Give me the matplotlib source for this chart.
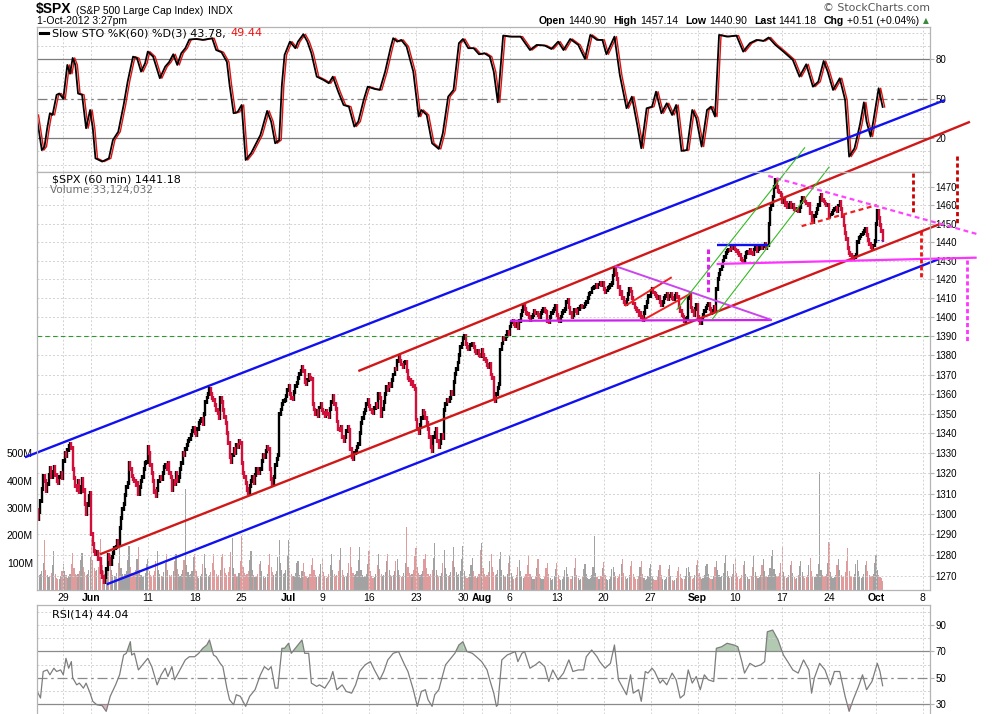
import numpy as np
import pandas as pd
import matplotlib
matplotlib.use("Agg")
from matplotlib import pyplot as plt
from matplotlib.lines import Line2D
from matplotlib.ticker import FixedLocator, NullLocator, FuncFormatter

# calendar of 60 min bars (7 a day, Jul 3 half session)
holidays = ["2012-05-28", "2012-07-04", "2012-09-03"]
half_days = ["2012-07-03"]

# hourly closes of $SPX, one row per trading day, May 23 .. Oct 1 (3:27pm)
spx_open_first = 1316.0
spx_close = [
    [1310.5, 1302.0, 1297.5, 1300.8, 1306.2, 1312.4, 1318.9],  # May 23
    [1316.0, 1311.2, 1314.8, 1319.2, 1322.5, 1318.0, 1320.7],
    [1323.0, 1319.4, 1316.1, 1315.2, 1318.3, 1320.1, 1317.8],
    [1326.0, 1330.2, 1328.8, 1331.5, 1333.6, 1334.5, 1332.4],  # May 29
    [1322.0, 1317.5, 1313.8, 1312.0, 1316.2, 1311.0, 1313.3],
    [1317.0, 1311.5, 1305.0, 1300.2, 1304.6, 1309.0, 1310.3],
    [1290.0, 1285.2, 1282.0, 1280.5, 1281.3, 1278.2, 1278.0],  # Jun 1
    [1272.0, 1269.5, 1267.2, 1269.4, 1273.5, 1280.0, 1278.2],
    [1276.0, 1279.2, 1281.0, 1283.3, 1284.1, 1287.0, 1285.5],
    [1293.0, 1298.2, 1302.5, 1305.0, 1309.4, 1313.2, 1315.1],
    [1325.0, 1322.0, 1318.5, 1317.2, 1316.0, 1314.1, 1315.0],
    [1310.0, 1313.1, 1316.2, 1318.4, 1322.0, 1325.2, 1325.7],
    [1333.0, 1330.1, 1324.2, 1320.0, 1316.3, 1311.0, 1308.9],  # Jun 11
    [1312.0, 1316.2, 1318.1, 1317.0, 1320.3, 1323.0, 1324.2],
    [1322.0, 1325.1, 1320.2, 1318.0, 1312.0, 1316.0, 1314.9],
    [1320.0, 1316.2, 1318.4, 1322.0, 1325.3, 1330.0, 1329.1],
    [1332.0, 1334.2, 1336.0, 1337.3, 1339.1, 1341.2, 1342.8],
    [1340.0, 1339.0, 1342.1, 1345.0, 1346.2, 1347.3, 1344.8],  # Jun 18
    [1350.0, 1356.1, 1358.2, 1360.0, 1362.4, 1360.1, 1358.0],
    [1357.0, 1354.2, 1352.0, 1350.1, 1348.0, 1358.2, 1355.7],
    [1352.0, 1348.1, 1345.0, 1340.2, 1335.0, 1328.1, 1325.5],
    [1329.0, 1332.0, 1330.2, 1334.1, 1333.0, 1336.2, 1335.0],
    [1325.0, 1320.1, 1318.0, 1315.2, 1312.0, 1310.5, 1313.7],  # Jun 25
    [1316.0, 1318.2, 1315.1, 1319.0, 1322.1, 1320.2, 1320.0],
    [1322.0, 1326.1, 1329.0, 1328.1, 1331.0, 1333.2, 1331.9],
    [1322.0, 1317.1, 1314.5, 1318.0, 1324.1, 1327.0, 1329.0],
    [1350.0, 1352.1, 1355.0, 1356.2, 1357.0, 1359.1, 1362.2],
    [1364.0, 1360.1, 1358.0, 1357.2, 1361.0, 1364.1, 1365.5],  # Jul 2
    [1368.0, 1370.2, 1372.1, 1374.0],
    [1372.0, 1366.1, 1365.0, 1367.2, 1370.0, 1368.1, 1367.6],
    [1355.0, 1352.1, 1350.0, 1351.2, 1349.0, 1353.1, 1354.7],
    [1352.0, 1350.1, 1349.0, 1351.2, 1350.0, 1348.1, 1352.5],  # Jul 9
    [1356.0, 1359.1, 1355.0, 1352.2, 1346.0, 1342.1, 1341.5],
    [1343.0, 1338.1, 1336.0, 1338.2, 1341.0, 1343.1, 1341.5],
    [1332.0, 1328.1, 1327.0, 1330.2, 1331.0, 1333.1, 1334.8],
    [1340.0, 1345.1, 1348.0, 1350.2, 1352.0, 1355.1, 1356.8],
    [1354.0, 1352.1, 1351.0, 1350.2, 1353.0, 1355.1, 1353.6],  # Jul 16
    [1360.0, 1358.1, 1349.0, 1352.2, 1356.0, 1360.1, 1363.7],
    [1362.0, 1365.1, 1364.0, 1367.2, 1370.0, 1373.1, 1372.8],
    [1377.0, 1379.1, 1377.0, 1375.2, 1374.0, 1376.1, 1376.5],
    [1372.0, 1368.1, 1367.0, 1365.2, 1366.0, 1364.1, 1362.7],
    [1347.0, 1342.1, 1340.0, 1344.2, 1348.0, 1351.1, 1350.5],  # Jul 23
    [1348.0, 1345.1, 1342.0, 1338.2, 1333.0, 1331.1, 1338.3],
    [1340.0, 1342.1, 1336.0, 1333.2, 1335.0, 1339.1, 1337.9],
    [1352.0, 1355.1, 1357.0, 1356.2, 1358.0, 1361.1, 1360.0],
    [1366.0, 1370.1, 1373.0, 1376.2, 1380.0, 1384.1, 1386.0],
    [1389.0, 1390.1, 1386.0, 1384.2, 1383.0, 1385.1, 1385.3],  # Jul 30
    [1386.0, 1384.1, 1382.0, 1381.2, 1382.0, 1380.1, 1379.3],
    [1383.0, 1380.1, 1378.0, 1377.2, 1375.0, 1374.1, 1375.3],
    [1370.0, 1368.1, 1358.0, 1356.2, 1360.0, 1363.1, 1365.0],
    [1383.0, 1386.1, 1389.0, 1388.2, 1390.0, 1392.1, 1391.0],
    [1395.0, 1397.1, 1398.0, 1396.2, 1395.0, 1396.1, 1394.2],  # Aug 6
    [1398.0, 1401.1, 1403.0, 1406.2, 1404.0, 1402.1, 1401.4],
    [1400.0, 1398.1, 1400.0, 1401.2, 1403.0, 1402.1, 1402.2],
    [1401.0, 1400.1, 1402.0, 1403.2, 1404.0, 1403.1, 1402.8],
    [1398.0, 1397.1, 1400.0, 1402.2, 1403.0, 1404.1, 1405.9],
    [1401.0, 1399.1, 1398.0, 1400.2, 1402.0, 1403.1, 1404.1],  # Aug 13
    [1408.0, 1409.1, 1405.0, 1402.2, 1400.0, 1401.1, 1403.9],
    [1403.0, 1402.1, 1404.0, 1405.2, 1406.0, 1405.1, 1405.5],
    [1407.0, 1408.1, 1410.0, 1412.2, 1413.0, 1415.1, 1415.5],
    [1416.0, 1417.1, 1416.0, 1417.2, 1418.0, 1417.1, 1418.2],
    [1415.0, 1413.1, 1414.0, 1415.2, 1416.0, 1417.1, 1418.1],  # Aug 20
    [1422.0, 1425.6, 1423.0, 1420.2, 1416.0, 1412.1, 1413.2],
    [1410.0, 1408.1, 1407.0, 1409.2, 1412.0, 1415.1, 1413.5],
    [1410.0, 1407.1, 1405.0, 1404.2, 1403.0, 1401.1, 1402.1],
    [1400.0, 1398.1, 1402.0, 1405.2, 1408.0, 1411.1, 1411.1],
    [1414.0, 1415.1, 1413.0, 1412.2, 1411.0, 1410.1, 1410.4],  # Aug 27
    [1408.0, 1406.1, 1408.0, 1410.2, 1411.0, 1412.1, 1409.3],
    [1411.0, 1412.1, 1410.0, 1409.2, 1411.0, 1412.1, 1410.5],
    [1405.0, 1403.1, 1401.0, 1400.2, 1398.0, 1399.1, 1399.5],
    [1410.0, 1412.1, 1405.0, 1403.2, 1401.0, 1404.1, 1406.6],
    [1400.0, 1398.1, 1397.0, 1399.2, 1401.0, 1403.1, 1404.9],  # Sep 4
    [1406.0, 1407.1, 1404.0, 1402.2, 1403.0, 1405.1, 1403.4],
    [1415.0, 1420.1, 1423.0, 1425.2, 1427.0, 1430.1, 1432.1],
    [1434.0, 1435.1, 1436.0, 1435.6, 1437.0, 1436.6, 1437.9],
    [1436.0, 1435.1, 1434.0, 1433.2, 1431.0, 1430.1, 1429.1],  # Sep 10
    [1432.0, 1434.1, 1435.0, 1434.2, 1436.0, 1434.1, 1433.6],
    [1436.0, 1437.1, 1435.0, 1436.2, 1437.0, 1438.1, 1436.6],
    [1438.0, 1439.1, 1437.0, 1438.2, 1450.0, 1458.1, 1460.0],
    [1465.0, 1470.1, 1474.0, 1470.2, 1468.0, 1467.1, 1465.8],
    [1462.0, 1463.1, 1460.0, 1461.2, 1459.0, 1460.1, 1461.2],  # Sep 17
    [1459.0, 1460.1, 1458.0, 1457.2, 1458.0, 1457.1, 1459.3],
    [1462.0, 1464.1, 1463.0, 1462.2, 1461.0, 1460.1, 1461.1],
    [1456.0, 1452.1, 1451.0, 1454.2, 1456.0, 1458.1, 1460.3],
    [1464.0, 1466.1, 1463.0, 1462.2, 1461.0, 1460.1, 1460.2],
    [1454.0, 1455.1, 1456.0, 1457.2, 1458.0, 1458.6, 1456.9],  # Sep 24
    [1460.0, 1462.1, 1458.0, 1454.2, 1449.0, 1445.1, 1441.6],
    [1437.0, 1434.1, 1433.0, 1432.2, 1431.0, 1432.1, 1433.3],
    [1440.0, 1442.1, 1443.0, 1444.2, 1445.0, 1446.1, 1447.2],
    [1444.0, 1441.1, 1439.0, 1437.2, 1436.0, 1438.1, 1440.7],
    [1450.0, 1457.1, 1453.0, 1449.2, 1446.0, 1441.18],  # Oct 1
]

# hourly volume (millions), same layout
spx_volume = [
    [175, 85, 92, 55, 58, 70, 100], [183, 75, 55, 48, 50, 62, 90], [143, 60, 45, 40, 42, 50, 70],
    [96, 70, 55, 45, 50, 60, 95], [137, 80, 60, 55, 58, 70, 110], [136, 85, 65, 55, 60, 75, 120],
    [192, 110, 80, 70, 72, 85, 140], [187, 90, 70, 60, 62, 75, 120], [132, 75, 55, 50, 52, 62, 100],
    [168, 80, 60, 52, 58, 68, 110], [161, 85, 62, 55, 60, 72, 115], [157, 75, 55, 48, 52, 62, 95],
    [113, 70, 55, 50, 55, 68, 105], [143, 75, 58, 50, 52, 65, 100], [132, 72, 55, 48, 55, 70, 105],
    [132, 78, 60, 52, 58, 72, 110], [370, 90, 65, 55, 58, 70, 120], [132, 70, 52, 45, 50, 60, 95],
    [132, 80, 60, 52, 55, 65, 100], [133, 75, 58, 50, 55, 75, 120], [132, 80, 62, 55, 65, 85, 140],
    [192, 80, 58, 50, 52, 62, 105], [198, 85, 62, 55, 58, 70, 110], [143, 72, 55, 48, 50, 60, 95],
    [106, 68, 52, 45, 48, 58, 92], [132, 85, 65, 55, 58, 70, 120], [182, 100, 72, 60, 62, 75, 130],
    [182, 80, 60, 50, 52, 62, 100], [106, 55, 45, 70], [100, 65, 50, 45, 48, 58, 90],
    [118, 72, 55, 48, 50, 60, 95], [118, 65, 50, 45, 48, 58, 92], [132, 75, 58, 50, 55, 68, 110],
    [155, 75, 55, 48, 52, 62, 100], [157, 85, 62, 55, 58, 70, 110], [157, 75, 55, 48, 50, 60, 95],
    [143, 68, 52, 45, 48, 58, 90], [132, 78, 58, 50, 55, 65, 105], [132, 75, 56, 50, 55, 68, 108],
    [113, 72, 55, 48, 52, 62, 100], [230, 85, 62, 55, 58, 72, 125], [155, 85, 62, 55, 58, 70, 115],
    [132, 80, 60, 52, 58, 72, 118], [173, 75, 55, 48, 52, 62, 100], [148, 80, 60, 52, 55, 65, 105],
    [157, 85, 65, 55, 58, 70, 115], [161, 70, 52, 45, 48, 58, 92], [118, 68, 52, 45, 50, 60, 145],
    [173, 80, 60, 52, 55, 65, 105], [132, 85, 65, 55, 60, 72, 115], [139, 75, 55, 48, 50, 60, 100],
    [125, 62, 48, 42, 45, 55, 85], [110, 68, 52, 45, 48, 58, 92], [125, 60, 46, 40, 42, 52, 82],
    [113, 58, 45, 40, 42, 50, 80], [100, 58, 44, 38, 40, 50, 78], [100, 55, 42, 38, 40, 48, 75],
    [85, 60, 46, 40, 42, 52, 82], [118, 56, 43, 38, 40, 48, 76], [95, 60, 45, 40, 44, 54, 85],
    [198, 62, 46, 40, 42, 52, 80], [103, 55, 42, 38, 40, 48, 76], [85, 65, 50, 45, 48, 60, 95],
    [113, 62, 48, 42, 45, 55, 88], [106, 60, 46, 40, 42, 52, 84], [106, 58, 44, 38, 40, 50, 80],
    [95, 52, 40, 35, 38, 46, 72], [92, 55, 42, 38, 40, 48, 76], [90, 50, 38, 34, 36, 44, 70],
    [85, 58, 44, 40, 42, 52, 82], [84, 65, 50, 42, 45, 55, 90], [110, 62, 48, 42, 45, 55, 88],
    [95, 58, 45, 40, 42, 52, 85], [106, 72, 55, 48, 52, 62, 100], [130, 68, 52, 45, 48, 58, 95],
    [113, 62, 48, 42, 45, 55, 90], [106, 60, 46, 40, 42, 52, 85], [124, 65, 50, 44, 46, 56, 92],
    [113, 68, 52, 46, 55, 80, 125], [146, 78, 58, 50, 52, 62, 100], [157, 65, 50, 44, 46, 56, 90],
    [106, 62, 48, 42, 45, 55, 88], [106, 65, 50, 44, 46, 56, 92], [117, 70, 52, 46, 48, 58, 95],
    [432, 72, 55, 48, 50, 60, 98], [176, 65, 50, 44, 46, 56, 90], [113, 72, 55, 48, 52, 65, 105],
    [154, 70, 52, 46, 48, 58, 95], [111, 68, 52, 45, 48, 58, 92], [106, 70, 54, 46, 50, 60, 100],
    [128, 72, 55, 48, 45, 33.1],
]

# Slow STO %K(60), sampled along the bar index
sto_bar = [1, 5, 7, 9, 11, 13, 16, 18, 21, 24, 26, 28, 30, 32, 35, 38, 41, 43, 45, 50,
           55, 58, 62, 66, 69, 73, 76, 79, 82, 84, 88, 93, 97, 100, 103, 106, 109, 112, 115, 120,
           125, 132, 135, 139, 143, 145, 148, 151, 154, 157, 161, 168, 173, 176, 179, 182, 184, 186, 190, 194,
           196, 200, 203, 206, 210, 215, 219, 222, 226, 230, 234, 238, 241, 245, 248, 253, 257, 261, 265, 267,
           270, 273, 277, 282, 286, 288, 292, 296, 301, 304, 308, 312, 316, 319, 323, 327, 331, 335, 339,
           342, 345, 349, 354, 362, 369, 374, 380, 385, 390, 394, 399, 405, 410, 414, 419, 423, 426, 432, 436,
           441, 445, 449, 452, 456, 460, 463, 467, 471, 475, 478, 482, 486, 490, 493, 497, 501, 504, 507, 510,
           516, 523, 528, 533, 538, 543, 547, 552, 558, 565, 570, 575, 580, 584, 588, 591, 595, 600, 604, 607,
           611, 615, 618, 620, 623, 625, 629, 632]
sto_k = [37.7, 11, 13.7, 27.6, 39, 37.7, 53, 54, 50, 75.7, 69, 81, 75.7, 54, 53, 27.6, 41.5, 27.6, 4.8, 2.3,
         4.8, 18.7, 25, 45.3, 63, 82, 80.8, 70.6, 77, 85.8, 82, 65.6, 74.4, 78, 83.8, 75.7, 84.6, 88.4, 95, 95.4,
         94.7, 96, 87, 85.3, 78, 60.5, 39, 40, 45.3, 3.5, 8.6, 22.5, 40.8, 32.7, 16.2, 18.7, 60.5, 83.3, 93.4, 88.4,
         93.4, 99, 93.4, 84.6, 66.8, 64.3, 61.8, 66.8, 55.4, 45.3, 44, 28.9, 32.7, 49.1, 59.2, 57.5, 56.7, 70.6, 88.4, 96,
         93.4, 94.7, 89.6, 70.6, 36.5, 41.5, 37.7, 16.2, 11.9, 23.8, 51.6, 56.7, 92.2, 95.4, 88.4, 88.4, 83.8, 84.6, 82,
         70.6, 47.3, 98, 97.2, 97.2, 87, 90.9, 90.4, 87.8, 93.4, 87, 95.4, 90.9, 80.3, 98.5, 94.7, 94.7, 83.8, 97.2, 68.1,
         42.8, 51.6, 30.1, 12.4, 42.8, 44, 55.4, 39, 46.6, 37.7, 45.3, 10.4, 11.1, 41.5, 35.2, 13.7, 41.5, 44, 36.5, 98.5,
         97.2, 98, 85.8, 92.2, 94.7, 93.9, 96.5, 90.9, 85.8, 79.5, 66.8, 76.2, 59.2, 63, 78.7, 70.6, 56.7, 65.6, 49.1, 6.1,
         12.4, 30.1, 47.3, 32.7, 21.3, 32.7, 58, 43.78]

# RSI(14), sampled along the bar index
rsi_bar = [1, 4, 6, 9, 11, 14, 16, 19, 21, 23, 25, 27, 28, 31, 33, 36, 38, 41, 43, 46,
           50, 53, 56, 60, 63, 66, 68, 71, 72, 74, 77, 79, 82, 84, 87, 91, 94, 97, 99, 102,
           104, 108, 112, 115, 119, 122, 125, 128, 130, 133, 135, 138, 140, 143, 145, 148, 150, 153, 157, 160,
           164, 168, 171, 174, 176, 179, 181, 184, 186, 189, 191, 195, 199, 201, 204, 206, 210, 212, 216, 220,
           222, 225, 229, 232, 236, 239, 242, 246, 250, 253, 257, 260, 263, 267, 271, 275, 278, 282, 285, 288,
           291, 293, 296, 298, 301, 303, 306, 309, 313, 316, 319, 322, 326, 329, 333, 337, 339,
           342, 344, 345, 348, 352, 355, 358, 360, 363, 365, 369, 373, 376, 380, 383, 386, 390, 394, 398, 401,
           405, 409, 411, 415, 419, 421, 425, 429, 432, 435, 439, 441, 444, 446, 450, 452, 455, 457, 460, 462,
           466, 468, 471, 475, 478, 481, 484, 487, 490, 493, 496, 499, 502, 506, 508, 512, 516, 521, 524, 527,
           529, 533, 537, 541, 544, 546, 550, 554, 558, 562, 565, 569, 573, 577, 579, 581, 585, 589, 593, 596,
           600, 604, 607, 610, 614, 617, 620, 624, 628, 630, 632]
rsi_val = [41, 34.7, 54.8, 56, 52.3, 57.3, 54.8, 56, 52.3, 64.8, 57.3, 62.3, 50, 44.7, 46, 42.2, 46, 38.4, 32.2, 29.6,
           28.9, 24.6, 36, 44.7, 52.3, 67.3, 68.6, 77.4, 67.3, 68.6, 56, 58.5, 62.3, 64.8, 58.5, 44.7, 52.3, 57.3, 51, 58.5,
           48.5, 56, 63.6, 66, 66, 68.6, 72.4, 74.9, 78.7, 67.3, 66, 61, 58.5, 42.2, 33.4, 29.6, 37.2, 36, 28.4, 36,
           41, 52.3, 58.5, 56, 58.5, 42.2, 42.2, 72.4, 72.4, 76.2, 68.6, 73.6, 78.7, 68.6, 68.6, 46, 43.5, 44.7, 42.2, 48.5,
           54.8, 41, 44.7, 39.7, 38.4, 44.7, 54.8, 59.8, 62.3, 56, 48.5, 54.8, 63.6, 68.6, 69.9, 61, 54.8, 41, 28.4, 39.7,
           41, 33.4, 28.4, 37.2, 41, 48.5, 59.8, 63.6, 68.6, 74.9, 77.4, 69.9, 68.6, 66, 62.3, 56, 48.5,
           38.4, 28.4, 29.6, 63.6, 67.3, 68.6, 69.9, 62.3, 68.6, 69.9, 57.3, 59.8, 62.3, 58.5, 47.2, 56, 48.5, 53.6, 63.6, 54.8,
           56, 56, 66, 71.1, 66, 62.3, 57.3, 61, 74.9, 48.5, 41, 37.2, 52.3, 38.4, 41, 32.2, 54.8, 53.6, 57.3, 54.8,
           46, 48.5, 44.7, 53.6, 48.5, 34.7, 37.2, 56, 46, 51, 41, 52.3, 48.5, 47.2, 72.4, 73.6, 76.2, 74.9, 73.6, 62.3,
           53.6, 61, 58.5, 59.8, 62.3, 84.9, 86.2, 78.7, 67.3, 61, 56, 53.6, 63.6, 56, 38.4, 49.7, 61, 56, 44.7, 54.8,
           54.8, 36, 24.6, 33.4, 43.5, 52.3, 41, 47.2, 61, 54.8, 44.04]

# axis ticks
tick_dates = ["2012-05-29", "2012-06-01", "2012-06-11", "2012-06-18", "2012-06-25", "2012-07-02",
              "2012-07-09", "2012-07-16", "2012-07-23", "2012-07-30", "2012-08-01", "2012-08-06",
              "2012-08-13", "2012-08-20", "2012-08-27", "2012-09-04", "2012-09-10", "2012-09-17",
              "2012-09-24", "2012-10-01", "2012-10-08"]
tick_labels = ["29", "Jun", "11", "18", "25", "Jul", "9", "16", "23", "30", "Aug", "6",
               "13", "20", "27", "Sep", "10", "17", "24", "Oct", "8"]
month_labels = ["Jun", "Jul", "Aug", "Sep", "Oct"]
price_ticks = list(range(1270, 1480, 10))
vol_ticks = [100, 200, 300, 400, 500]

# hand drawn annotation lines: (bar index, price) end points
blue_upper = [(-7.6, 1328.0), (678.5, 1519.1)]
blue_lower = [(53.4, 1266.0), (673.5, 1430.7)]
red_lower = [(48.4, 1280.4), (674.2, 1449.7)]
red_upper = [(241.0, 1371.8), (697.1, 1506.7)]
red_short_a = [(439.9, 1405.8), (474.7, 1421.1)]
red_short_b = [(452.3, 1398.0), (488.3, 1412.2)]
red_wedge = [(571.6, 1448.7), (627.6, 1460.2)]
pink_down = [(546.7, 1476.3), (703.3, 1444.2)]
pink_1430 = [(508.2, 1428.2), (702.1, 1431.6)]
violet_base = [(354.1, 1398.0), (549.3, 1398.4)]
violet_top = [(432.4, 1427.1), (549.3, 1398.4)]
blue_shelf = [(508.2, 1438.4), (546.7, 1438.4)]
green_a = [(478.4, 1403.7), (574.1, 1492.3)]
green_b = [(504.5, 1398.4), (592.2, 1481.4)]
last_mark = [(627.6, 1441.18), (633.0, 1441.18)]
level_1390 = 1390
pink_v1 = [(502.0, 1436.3), (502.0, 1412.5)]
pink_v2 = [(695.1, 1430.3), (695.1, 1386.5)]
red_v1 = [(654.4, 1477.8), (654.4, 1455.7)]
red_v2 = [(687.4, 1487.4), (687.4, 1449.3)]
red_v3 = [(660.4, 1446.0), (660.4, 1421.4)]

plt.rcParams["font.family"] = ["Liberation Sans", "DejaVu Sans"]

# bar index of each trading day
days = [d.strftime("%Y-%m-%d") for d in pd.bdate_range("2012-05-23", "2012-10-08")]
days = [d for d in days if d not in holidays]
per_day = [4 if d in half_days else 7 for d in days]
day_start = dict(zip(days, np.concatenate([[0], np.cumsum(per_day)[:-1]])))

bar_x = np.concatenate([day_start[days[i]] + np.arange(len(row)) for i, row in enumerate(spx_close)])
closes = np.concatenate([np.array(r, float) for r in spx_close])
vols = np.concatenate([np.array(r, float) for r in spx_volume])
prev = np.r_[spx_open_first, closes[:-1]]
up = closes >= prev
tick_pos = [day_start[d] for d in tick_dates]

W, H = 1005, 714
fig = plt.figure(figsize=(W / 100, H / 100), dpi=100)


def rect(x0, y0, x1, y1):
    return [x0 / W, 1 - y1 / H, (x1 - x0) / W, (y1 - y0) / H]


ax_sto = fig.add_axes(rect(37, 27, 930, 172))
ax_vol = fig.add_axes(rect(37, 172, 930, 590))
ax_px = fig.add_axes(rect(37, 172, 930, 590))
ax_rsi = fig.add_axes(rect(37, 605, 930, 714))
ax_sto.set_zorder(1)
ax_vol.set_zorder(1)
ax_rsi.set_zorder(1)
ax_px.set_zorder(2)
ax_px.patch.set_visible(False)

frame = "#b4b4b4"
grid_kw = dict(color="#d2d2d2", ls=(0, (2, 2)), lw=0.7)
XL = (1.4, 667.3)
for ax in (ax_sto, ax_vol, ax_px, ax_rsi):
    ax.set_xlim(*XL)
    for s in ax.spines.values():
        s.set_color(frame)
        s.set_linewidth(0.9)
for s in ax_vol.spines.values():
    s.set_visible(False)
ax_rsi.spines["bottom"].set_visible(False)

# ---- STO panel ----
ax_sto.set_ylim(-5.6, 104.5)
ax_sto.set_xticks(tick_pos)
ax_sto.tick_params(axis="x", length=0, labelbottom=False)
ax_sto.grid(axis="x", **grid_kw)
for v in [0, 10, 30, 40, 60, 70, 90, 100]:
    ax_sto.axhline(v, **grid_kw)
for v in [20, 80]:
    ax_sto.axhline(v, color="#7c7c7c", lw=0.9)
ax_sto.axhline(50, color="#7c7c7c", lw=0.9, ls=(0, (8, 3, 2, 3)))
ax_sto.plot(np.array(sto_bar) + 1.5, sto_k, color="#e01010", lw=1.0)
ax_sto.plot(sto_bar, sto_k, color="black", lw=1.3)
ax_sto.yaxis.tick_right()
ax_sto.set_yticks([20, 50, 80])
ax_sto.tick_params(axis="y", length=3, color=frame, labelsize=7, pad=1)

# ---- volume (under price) ----
ax_vol.bar(bar_x, vols, width=0.85, color=np.where(up, "#a2a2a2", "#e09c9c"), linewidth=0)
ax_vol.set_ylim(0, 1531)
ax_vol.set_xticks([])
ax_vol.set_yticks(vol_ticks)
ax_vol.set_yticklabels([f"{v}M" for v in vol_ticks])
ax_vol.tick_params(axis="y", length=0, pad=3, labelsize=7.5)

# ---- price panel ----
ax_px.set_yscale("log")
ax_px.set_ylim(1263.3, 1478.5)
ax_px.yaxis.set_major_locator(FixedLocator(price_ticks))
ax_px.yaxis.set_minor_locator(NullLocator())
ax_px.yaxis.set_major_formatter(FuncFormatter(lambda v, p: f"{v:.0f}"))
ax_px.yaxis.tick_right()
ax_px.tick_params(axis="y", length=3, color=frame, labelsize=7, pad=1)
ax_px.set_xticks(tick_pos)
ax_px.set_xticklabels(tick_labels)
ax_px.tick_params(axis="x", length=0, labelsize=7.5, pad=2.5)
for lbl in ax_px.get_xticklabels():
    if lbl.get_text() in month_labels:
        lbl.set_fontweight("bold")
ax_px.grid(axis="both", **grid_kw)

lo = np.minimum(prev, closes) - 1.0
hi = np.maximum(prev, closes) + 1.0
ax_px.vlines(bar_x[up], lo[up], hi[up], color="black", lw=1.7)
ax_px.vlines(bar_x[~up], lo[~up], hi[~up], color="#d0103a", lw=1.7)


def seg(pts, **kw):
    xs, ys = zip(*pts)
    ax_px.plot(xs, ys, clip_on=False, solid_capstyle="butt", dash_capstyle="butt", **kw)


ax_px.axhline(level_1390, color="#2e9a2e", lw=0.8, dashes=(4, 3))
seg(blue_upper, color="#1010f0", lw=1.7)
seg(blue_lower, color="#1010f0", lw=1.7)
seg(red_lower, color="#d01818", lw=1.7)
seg(red_upper, color="#d01818", lw=1.7)
seg(red_short_a, color="#ee2020", lw=1.4)
seg(red_short_b, color="#ee2020", lw=1.4)
seg(red_wedge, color="#ee2020", lw=1.6, dashes=(2.2, 1.6))
seg(pink_down, color="#ff44ff", lw=1.6, dashes=(2.2, 1.6))
seg(pink_1430, color="#ff33ff", lw=1.6)
seg(violet_base, color="#cc22ee", lw=1.6)
seg(violet_top, color="#cc44ee", lw=1.4)
seg(blue_shelf, color="#1010f0", lw=1.7)
seg(green_a, color="#33bb22", lw=0.8)
seg(green_b, color="#33bb22", lw=0.8)
seg(last_mark, color="#3030ff", lw=0.8, dashes=(2, 1.5))
seg(pink_v1, color="#dd22ee", lw=2.2, dashes=(1.5, 1.0))
seg(pink_v2, color="#ff33ff", lw=2.0, dashes=(1.5, 1.0))
seg(red_v1, color="#cc0000", lw=2.0, dashes=(1.5, 1.0))
seg(red_v2, color="#cc0000", lw=2.0, dashes=(1.5, 1.0))
seg(red_v3, color="#ee1111", lw=2.0, dashes=(1.5, 1.0))

# ---- RSI panel ----
rb = np.array(rsi_bar, float)
rv = np.array(rsi_val, float)
ax_rsi.set_ylim(22.6, 105.2)
ax_rsi.set_xticks(tick_pos)
ax_rsi.tick_params(axis="x", length=0, labelbottom=False)
ax_rsi.grid(axis="x", **grid_kw)
for v in [40, 60, 80, 90, 100]:
    ax_rsi.axhline(v, **grid_kw)
for v in [30, 70]:
    ax_rsi.axhline(v, color="#8a8a8a", lw=0.9)
ax_rsi.axhline(50, color="#8a8a8a", lw=0.9, ls=(0, (8, 3, 2, 3)))
ax_rsi.fill_between(rb, rv, 70, where=rv > 70, interpolate=True, color="#b2c9b2", lw=0)
ax_rsi.fill_between(rb, rv, 30, where=rv < 30, interpolate=True, color="#e6b3c3", lw=0)
ax_rsi.plot(rb, rv, color="#7d7d7d", lw=0.9)
ax_rsi.yaxis.tick_right()
ax_rsi.set_yticks([30, 50, 70, 90])
ax_rsi.tick_params(axis="y", length=3, color=frame, labelsize=7, pad=1)


# ---- texts ----
def run_left(host, x, y, pieces):
    prev_t = None
    for text, gap, kw in pieces:
        if prev_t is None:
            prev_t = fig.text(x / W, 1 - y / H, text, ha="left", va="baseline", **kw)
        else:
            prev_t = host.annotate(text, xy=(1, 0), xycoords=prev_t, xytext=(gap, 0),
                                   textcoords="offset pixels", ha="left", va="bottom",
                                   annotation_clip=False, **kw)


def run_right(host, x, y, pieces):
    prev_t = None
    for text, gap, kw in reversed(pieces):
        if prev_t is None:
            prev_t = fig.text(x / W, 1 - y / H, text, ha="right", va="baseline", **kw)
        else:
            prev_t = host.annotate(text, xy=(0, 0), xycoords=prev_t, xytext=(-gap, 0),
                                   textcoords="offset pixels", ha="right", va="bottom",
                                   annotation_clip=False, **kw)


hb = dict(fontsize=7.6, fontweight="bold")
hn = dict(fontsize=7.6)
run_left(ax_sto, 36, 13, [("$SPX", 0, dict(fontsize=10, fontweight="bold")),
                          ("(S&P 500 Large Cap Index)", 4, dict(fontsize=7.5)),
                          ("INDX", 5, dict(fontsize=7.5))])
fig.text(37 / W, 1 - 23.5 / H, "1-Oct-2012 3:27pm", fontsize=7.5, va="baseline")
fig.text(930 / W, 1 - 11 / H, "\u00a9 StockCharts.com", fontsize=7.8, color="#555555",
         ha="right", va="baseline", family=["DejaVu Sans"])
run_right(ax_sto, 919, 24, [("Open", 3, hb), ("1440.90", 7, hn), ("High", 3, hb), ("1457.14", 7, hn),
                            ("Low", 3, hb), ("1440.90", 7, hn), ("Last", 3, hb), ("1441.18", 7, hn),
                            ("Chg", 3, hb), ("+0.51 (+0.04%)", 0, hn)])
fig.text(926 / W, 1 - 20.5 / H, "\u25b2", fontsize=5.5, color="#3a8a3a", ha="center", va="center",
         family=["DejaVu Sans"])

leg = dict(family=["DejaVu Sans"], fontsize=8)
fig.add_artist(Line2D([40 / W, 48 / W], [1 - 33 / H, 1 - 33 / H], color="black", lw=2.2))
run_left(ax_sto, 52, 36.5, [("Slow STO %K(60) %D(3) 43.78,", 0, leg),
                            ("49.44", 5, dict(leg, color="#ee1111"))])
fig.text(52 / W, 1 - 183 / H, "$SPX (60 min) 1441.18", va="baseline", **leg)
fig.text(50 / W, 1 - 193 / H, "Volume 33,124,032", va="baseline", color="#707070",
         family=["DejaVu Sans"], fontsize=7.6)
fig.text(52 / W, 1 - 617.5 / H, "RSI(14) 44.04", va="baseline", **leg)

fig.savefig("out.png", dpi=100)
